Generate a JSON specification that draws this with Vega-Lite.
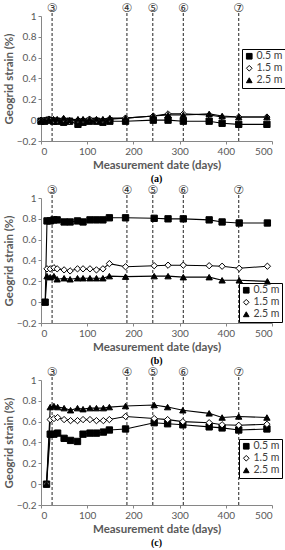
{
  "$schema": "https://vega.github.io/schema/vega-lite/v6.json",
  "padding": {"top": 2, "left": 3, "right": 0, "bottom": 0},
  "spacing": 0,
  "config": {
    "view": {"stroke": null},
    "font": "Lato",
    "axis": {"grid": false, "domainColor": "#868686", "tickColor": "#868686", "labelColor": "#595959", "labelFont": "Lato", "labelFontSize": 10, "labelOverlap": false, "labelPadding": 2, "titleColor": "#595959", "titleFont": "Lato", "titleFontSize": 11.5, "titleFontWeight": "bold", "tickSize": 3},
    "legend": {"labelFont": "Lato", "labelFontSize": 10.5, "labelColor": "#404040", "strokeColor": "black", "padding": 2, "rowPadding": 1, "labelOffset": 2, "symbolStrokeColor": "black", "symbolStrokeWidth": 1, "symbolSize": 32}
  },
  "resolve": {"scale": {"shape": "independent", "fill": "independent", "stroke": "independent"}, "legend": {"shape": "independent", "fill": "independent", "stroke": "independent"}},
  "datasets": {
    "events": [
      {"t": 24, "lab": "③"}, {"t": 186, "lab": "④"}, {"t": 242, "lab": "⑤"}, {"t": 308, "lab": "⑥"}, {"t": 428, "lab": "⑦"}
    ],
    "strain": [
      {"p":"a","d":"0.5 m","t":0,"s":-0.01},{"p":"a","d":"0.5 m","t":8,"s":-0.01},{"p":"a","d":"0.5 m","t":17,"s":0},{"p":"a","d":"0.5 m","t":27,"s":-0.01},{"p":"a","d":"0.5 m","t":35,"s":-0.01},{"p":"a","d":"0.5 m","t":49,"s":-0.02},{"p":"a","d":"0.5 m","t":62,"s":-0.01},{"p":"a","d":"0.5 m","t":80,"s":-0.04},{"p":"a","d":"0.5 m","t":91,"s":-0.02},{"p":"a","d":"0.5 m","t":105,"s":-0.01},{"p":"a","d":"0.5 m","t":120,"s":-0.01},{"p":"a","d":"0.5 m","t":134,"s":-0.02},{"p":"a","d":"0.5 m","t":149,"s":-0.01},{"p":"a","d":"0.5 m","t":183,"s":-0.01},{"p":"a","d":"0.5 m","t":243,"s":0},{"p":"a","d":"0.5 m","t":275,"s":0},{"p":"a","d":"0.5 m","t":308,"s":-0.01},{"p":"a","d":"0.5 m","t":364,"s":-0.01},{"p":"a","d":"0.5 m","t":392,"s":-0.03},{"p":"a","d":"0.5 m","t":428,"s":-0.04},{"p":"a","d":"0.5 m","t":489,"s":-0.04},
      {"p":"a","d":"1.5 m","t":0,"s":0},{"p":"a","d":"1.5 m","t":8,"s":0},{"p":"a","d":"1.5 m","t":17,"s":0.01},{"p":"a","d":"1.5 m","t":27,"s":0},{"p":"a","d":"1.5 m","t":35,"s":0},{"p":"a","d":"1.5 m","t":49,"s":0.01},{"p":"a","d":"1.5 m","t":62,"s":-0.01},{"p":"a","d":"1.5 m","t":80,"s":0},{"p":"a","d":"1.5 m","t":91,"s":0},{"p":"a","d":"1.5 m","t":105,"s":0.01},{"p":"a","d":"1.5 m","t":120,"s":0},{"p":"a","d":"1.5 m","t":134,"s":0},{"p":"a","d":"1.5 m","t":149,"s":0.01},{"p":"a","d":"1.5 m","t":183,"s":0.02},{"p":"a","d":"1.5 m","t":243,"s":0.04},{"p":"a","d":"1.5 m","t":275,"s":0.06},{"p":"a","d":"1.5 m","t":308,"s":0.06},{"p":"a","d":"1.5 m","t":364,"s":0.05},{"p":"a","d":"1.5 m","t":392,"s":0.03},{"p":"a","d":"1.5 m","t":428,"s":0.03},{"p":"a","d":"1.5 m","t":489,"s":0.03},
      {"p":"a","d":"2.5 m","t":0,"s":0},{"p":"a","d":"2.5 m","t":8,"s":0},{"p":"a","d":"2.5 m","t":17,"s":0.01},{"p":"a","d":"2.5 m","t":27,"s":0.01},{"p":"a","d":"2.5 m","t":35,"s":0.01},{"p":"a","d":"2.5 m","t":49,"s":0.02},{"p":"a","d":"2.5 m","t":62,"s":0},{"p":"a","d":"2.5 m","t":80,"s":0.01},{"p":"a","d":"2.5 m","t":91,"s":0.01},{"p":"a","d":"2.5 m","t":105,"s":0.01},{"p":"a","d":"2.5 m","t":120,"s":0.01},{"p":"a","d":"2.5 m","t":134,"s":0.01},{"p":"a","d":"2.5 m","t":149,"s":0.02},{"p":"a","d":"2.5 m","t":183,"s":0.02},{"p":"a","d":"2.5 m","t":243,"s":0.04},{"p":"a","d":"2.5 m","t":275,"s":0.05},{"p":"a","d":"2.5 m","t":308,"s":0.05},{"p":"a","d":"2.5 m","t":364,"s":0.06},{"p":"a","d":"2.5 m","t":392,"s":0.04},{"p":"a","d":"2.5 m","t":428,"s":0.03},{"p":"a","d":"2.5 m","t":489,"s":0.03},

      {"p":"b","d":"0.5 m","t":9,"s":0},{"p":"b","d":"0.5 m","t":13,"s":0.78},{"p":"b","d":"0.5 m","t":20,"s":0.78},{"p":"b","d":"0.5 m","t":28,"s":0.79},{"p":"b","d":"0.5 m","t":35,"s":0.79},{"p":"b","d":"0.5 m","t":50,"s":0.77},{"p":"b","d":"0.5 m","t":63,"s":0.77},{"p":"b","d":"0.5 m","t":79,"s":0.78},{"p":"b","d":"0.5 m","t":91,"s":0.77},{"p":"b","d":"0.5 m","t":106,"s":0.79},{"p":"b","d":"0.5 m","t":120,"s":0.79},{"p":"b","d":"0.5 m","t":134,"s":0.79},{"p":"b","d":"0.5 m","t":148,"s":0.81},{"p":"b","d":"0.5 m","t":183,"s":0.81},{"p":"b","d":"0.5 m","t":245,"s":0.805},{"p":"b","d":"0.5 m","t":275,"s":0.8},{"p":"b","d":"0.5 m","t":308,"s":0.8},{"p":"b","d":"0.5 m","t":364,"s":0.79},{"p":"b","d":"0.5 m","t":392,"s":0.77},{"p":"b","d":"0.5 m","t":429,"s":0.76},{"p":"b","d":"0.5 m","t":490,"s":0.76},
      {"p":"b","d":"1.5 m","t":13,"s":0.32},{"p":"b","d":"1.5 m","t":20,"s":0.32},{"p":"b","d":"1.5 m","t":28,"s":0.33},{"p":"b","d":"1.5 m","t":35,"s":0.32},{"p":"b","d":"1.5 m","t":50,"s":0.31},{"p":"b","d":"1.5 m","t":63,"s":0.3},{"p":"b","d":"1.5 m","t":79,"s":0.32},{"p":"b","d":"1.5 m","t":91,"s":0.32},{"p":"b","d":"1.5 m","t":106,"s":0.32},{"p":"b","d":"1.5 m","t":120,"s":0.31},{"p":"b","d":"1.5 m","t":134,"s":0.32},{"p":"b","d":"1.5 m","t":148,"s":0.37},{"p":"b","d":"1.5 m","t":183,"s":0.34},{"p":"b","d":"1.5 m","t":245,"s":0.35},{"p":"b","d":"1.5 m","t":275,"s":0.355},{"p":"b","d":"1.5 m","t":308,"s":0.355},{"p":"b","d":"1.5 m","t":364,"s":0.35},{"p":"b","d":"1.5 m","t":392,"s":0.345},{"p":"b","d":"1.5 m","t":429,"s":0.325},{"p":"b","d":"1.5 m","t":490,"s":0.345},
      {"p":"b","d":"2.5 m","t":9,"s":0},{"p":"b","d":"2.5 m","t":13,"s":0.25},{"p":"b","d":"2.5 m","t":20,"s":0.24},{"p":"b","d":"2.5 m","t":28,"s":0.25},{"p":"b","d":"2.5 m","t":35,"s":0.22},{"p":"b","d":"2.5 m","t":50,"s":0.23},{"p":"b","d":"2.5 m","t":63,"s":0.22},{"p":"b","d":"2.5 m","t":79,"s":0.23},{"p":"b","d":"2.5 m","t":91,"s":0.23},{"p":"b","d":"2.5 m","t":106,"s":0.23},{"p":"b","d":"2.5 m","t":120,"s":0.23},{"p":"b","d":"2.5 m","t":134,"s":0.23},{"p":"b","d":"2.5 m","t":148,"s":0.25},{"p":"b","d":"2.5 m","t":183,"s":0.245},{"p":"b","d":"2.5 m","t":245,"s":0.25},{"p":"b","d":"2.5 m","t":275,"s":0.25},{"p":"b","d":"2.5 m","t":308,"s":0.24},{"p":"b","d":"2.5 m","t":364,"s":0.24},{"p":"b","d":"2.5 m","t":392,"s":0.21},{"p":"b","d":"2.5 m","t":429,"s":0.21},{"p":"b","d":"2.5 m","t":490,"s":0.2},

      {"p":"c","d":"0.5 m","t":12,"s":0},{"p":"c","d":"0.5 m","t":20,"s":0.48},{"p":"c","d":"0.5 m","t":28,"s":0.48},{"p":"c","d":"0.5 m","t":36,"s":0.49},{"p":"c","d":"0.5 m","t":50,"s":0.44},{"p":"c","d":"0.5 m","t":64,"s":0.42},{"p":"c","d":"0.5 m","t":79,"s":0.41},{"p":"c","d":"0.5 m","t":91,"s":0.48},{"p":"c","d":"0.5 m","t":106,"s":0.49},{"p":"c","d":"0.5 m","t":120,"s":0.49},{"p":"c","d":"0.5 m","t":135,"s":0.5},{"p":"c","d":"0.5 m","t":148,"s":0.52},{"p":"c","d":"0.5 m","t":183,"s":0.53},{"p":"c","d":"0.5 m","t":245,"s":0.59},{"p":"c","d":"0.5 m","t":274,"s":0.58},{"p":"c","d":"0.5 m","t":307,"s":0.57},{"p":"c","d":"0.5 m","t":364,"s":0.55},{"p":"c","d":"0.5 m","t":392,"s":0.54},{"p":"c","d":"0.5 m","t":428,"s":0.52},{"p":"c","d":"0.5 m","t":489,"s":0.53},
      {"p":"c","d":"1.5 m","t":12,"s":0},{"p":"c","d":"1.5 m","t":20,"s":0.62},{"p":"c","d":"1.5 m","t":28,"s":0.63},{"p":"c","d":"1.5 m","t":36,"s":0.64},{"p":"c","d":"1.5 m","t":50,"s":0.62},{"p":"c","d":"1.5 m","t":64,"s":0.61},{"p":"c","d":"1.5 m","t":79,"s":0.61},{"p":"c","d":"1.5 m","t":91,"s":0.62},{"p":"c","d":"1.5 m","t":106,"s":0.62},{"p":"c","d":"1.5 m","t":120,"s":0.61},{"p":"c","d":"1.5 m","t":135,"s":0.61},{"p":"c","d":"1.5 m","t":148,"s":0.62},{"p":"c","d":"1.5 m","t":183,"s":0.65},{"p":"c","d":"1.5 m","t":245,"s":0.63},{"p":"c","d":"1.5 m","t":274,"s":0.62},{"p":"c","d":"1.5 m","t":307,"s":0.6},{"p":"c","d":"1.5 m","t":364,"s":0.59},{"p":"c","d":"1.5 m","t":392,"s":0.57},{"p":"c","d":"1.5 m","t":428,"s":0.565},{"p":"c","d":"1.5 m","t":489,"s":0.575},
      {"p":"c","d":"2.5 m","t":12,"s":0},{"p":"c","d":"2.5 m","t":20,"s":0.74},{"p":"c","d":"2.5 m","t":28,"s":0.75},{"p":"c","d":"2.5 m","t":36,"s":0.74},{"p":"c","d":"2.5 m","t":50,"s":0.73},{"p":"c","d":"2.5 m","t":64,"s":0.71},{"p":"c","d":"2.5 m","t":79,"s":0.73},{"p":"c","d":"2.5 m","t":91,"s":0.72},{"p":"c","d":"2.5 m","t":106,"s":0.73},{"p":"c","d":"2.5 m","t":120,"s":0.73},{"p":"c","d":"2.5 m","t":135,"s":0.73},{"p":"c","d":"2.5 m","t":148,"s":0.74},{"p":"c","d":"2.5 m","t":183,"s":0.75},{"p":"c","d":"2.5 m","t":245,"s":0.76},{"p":"c","d":"2.5 m","t":274,"s":0.74},{"p":"c","d":"2.5 m","t":307,"s":0.71},{"p":"c","d":"2.5 m","t":364,"s":0.68},{"p":"c","d":"2.5 m","t":392,"s":0.64},{"p":"c","d":"2.5 m","t":428,"s":0.65},{"p":"c","d":"2.5 m","t":489,"s":0.64}
    ]
  },
  "vconcat": [
    {
      "width": 231, "height": 125,
      "title": {"text": "(a)", "orient": "bottom", "font": "Liberation Serif", "fontSize": 10, "fontWeight": "bold", "color": "black", "offset": 3},
      "encoding": {
        "x": {"type": "quantitative", "scale": {"domain": [0, 500]}, "axis": {"values": [0, 100, 200, 300, 400, 500], "title": "Measurement date (days)", "titlePadding": 3}},
        "y": {"type": "quantitative", "scale": {"domain": [-0.2, 1]}, "axis": {"values": [-0.2, 0, 0.2, 0.4, 0.6, 0.8, 1], "format": "~g", "labelOverlap": false, "title": "Geogrid strain (%)", "titlePadding": 2}}
      },
      "layer": [
        {"data": {"name": "events"}, "mark": {"type": "rule", "strokeDash": [3, 2], "color": "#222", "strokeWidth": 1},
         "encoding": {"x": {"field": "t"}, "y": {"datum": -0.2}, "y2": {"datum": 1.045}}},
        {"data": {"name": "events"}, "mark": {"type": "text", "font": "DejaVu Sans", "fontSize": 12, "color": "#333", "baseline": "middle"},
         "encoding": {"x": {"field": "t"}, "y": {"datum": 1.075}, "text": {"field": "lab"}}},
        {"data": {"name": "strain"}, "transform": [{"filter": "datum.p == 'a'"}], "mark": {"type": "line", "color": "black", "strokeWidth": 1.1},
         "encoding": {"x": {"field": "t"}, "y": {"field": "s"}, "detail": {"field": "d"}}},
        {"data": {"name": "strain"}, "transform": [{"filter": "datum.p == 'a'"}], "mark": {"type": "point", "filled": true, "strokeWidth": 1, "size": 40, "opacity": 1},
         "encoding": {
           "x": {"field": "t"}, "y": {"field": "s"},
           "shape": {"field": "d", "type": "nominal", "scale": {"domain": ["0.5 m", "1.5 m", "2.5 m"], "range": ["square", "diamond", "triangle-up"]}, "legend": {"title": null, "orient": "none", "legendX": 201, "legendY": 33, "strokeColor": "black"}},
           "fill": {"field": "d", "type": "nominal", "scale": {"domain": ["0.5 m", "1.5 m", "2.5 m"], "range": ["black", "white", "black"]}, "legend": {"title": null, "orient": "none", "legendX": 201, "legendY": 33, "strokeColor": "black"}},
           "stroke": {"field": "d", "type": "nominal", "scale": {"domain": ["0.5 m", "1.5 m", "2.5 m"], "range": ["black", "black", "black"]}, "legend": {"title": null, "orient": "none", "legendX": 201, "legendY": 33, "strokeColor": "black"}}
         }}
      ]
    },
    {
      "width": 231, "height": 125,
      "title": {"text": "(b)", "orient": "bottom", "font": "Liberation Serif", "fontSize": 10, "fontWeight": "bold", "color": "black", "offset": 3},
      "encoding": {
        "x": {"type": "quantitative", "scale": {"domain": [0, 500]}, "axis": {"values": [0, 100, 200, 300, 400, 500], "title": "Measurement date (days)", "titlePadding": 3}},
        "y": {"type": "quantitative", "scale": {"domain": [-0.2, 1]}, "axis": {"values": [-0.2, 0, 0.2, 0.4, 0.6, 0.8, 1], "format": "~g", "labelOverlap": false, "title": "Geogrid strain (%)", "titlePadding": 2}}
      },
      "layer": [
        {"data": {"name": "events"}, "mark": {"type": "rule", "strokeDash": [3, 2], "color": "#222", "strokeWidth": 1},
         "encoding": {"x": {"field": "t"}, "y": {"datum": -0.2}, "y2": {"datum": 1.045}}},
        {"data": {"name": "events"}, "mark": {"type": "text", "font": "DejaVu Sans", "fontSize": 12, "color": "#333", "baseline": "middle"},
         "encoding": {"x": {"field": "t"}, "y": {"datum": 1.075}, "text": {"field": "lab"}}},
        {"data": {"name": "strain"}, "transform": [{"filter": "datum.p == 'b'"}], "mark": {"type": "line", "color": "black", "strokeWidth": 1.1},
         "encoding": {"x": {"field": "t"}, "y": {"field": "s"}, "detail": {"field": "d"}}},
        {"data": {"name": "strain"}, "transform": [{"filter": "datum.p == 'b'"}], "mark": {"type": "point", "filled": true, "strokeWidth": 1, "size": 40, "opacity": 1},
         "encoding": {
           "x": {"field": "t"}, "y": {"field": "s"},
           "shape": {"field": "d", "type": "nominal", "scale": {"domain": ["0.5 m", "1.5 m", "2.5 m"], "range": ["square", "diamond", "triangle-up"]}, "legend": {"title": null, "orient": "none", "legendX": 198, "legendY": 85, "strokeColor": "black"}},
           "fill": {"field": "d", "type": "nominal", "scale": {"domain": ["0.5 m", "1.5 m", "2.5 m"], "range": ["black", "white", "black"]}, "legend": {"title": null, "orient": "none", "legendX": 198, "legendY": 85, "strokeColor": "black"}},
           "stroke": {"field": "d", "type": "nominal", "scale": {"domain": ["0.5 m", "1.5 m", "2.5 m"], "range": ["black", "black", "black"]}, "legend": {"title": null, "orient": "none", "legendX": 198, "legendY": 85, "strokeColor": "black"}}
         }}
      ]
    },
    {
      "width": 231, "height": 125,
      "title": {"text": "(c)", "orient": "bottom", "font": "Liberation Serif", "fontSize": 10, "fontWeight": "bold", "color": "black", "offset": 3},
      "encoding": {
        "x": {"type": "quantitative", "scale": {"domain": [0, 500]}, "axis": {"values": [0, 100, 200, 300, 400, 500], "title": "Measurement date (days)", "titlePadding": 3}},
        "y": {"type": "quantitative", "scale": {"domain": [-0.2, 1]}, "axis": {"values": [-0.2, 0, 0.2, 0.4, 0.6, 0.8, 1], "format": "~g", "labelOverlap": false, "title": "Geogrid strain (%)", "titlePadding": 2}}
      },
      "layer": [
        {"data": {"name": "events"}, "mark": {"type": "rule", "strokeDash": [3, 2], "color": "#222", "strokeWidth": 1},
         "encoding": {"x": {"field": "t"}, "y": {"datum": -0.2}, "y2": {"datum": 1.045}}},
        {"data": {"name": "events"}, "mark": {"type": "text", "font": "DejaVu Sans", "fontSize": 12, "color": "#333", "baseline": "middle"},
         "encoding": {"x": {"field": "t"}, "y": {"datum": 1.075}, "text": {"field": "lab"}}},
        {"data": {"name": "strain"}, "transform": [{"filter": "datum.p == 'c'"}], "mark": {"type": "line", "color": "black", "strokeWidth": 1.1},
         "encoding": {"x": {"field": "t"}, "y": {"field": "s"}, "detail": {"field": "d"}}},
        {"data": {"name": "strain"}, "transform": [{"filter": "datum.p == 'c'"}], "mark": {"type": "point", "filled": true, "strokeWidth": 1, "size": 40, "opacity": 1},
         "encoding": {
           "x": {"field": "t"}, "y": {"field": "s"},
           "shape": {"field": "d", "type": "nominal", "scale": {"domain": ["0.5 m", "1.5 m", "2.5 m"], "range": ["square", "diamond", "triangle-up"]}, "legend": {"title": null, "orient": "none", "legendX": 198, "legendY": 59, "strokeColor": "black"}},
           "fill": {"field": "d", "type": "nominal", "scale": {"domain": ["0.5 m", "1.5 m", "2.5 m"], "range": ["black", "white", "black"]}, "legend": {"title": null, "orient": "none", "legendX": 198, "legendY": 59, "strokeColor": "black"}},
           "stroke": {"field": "d", "type": "nominal", "scale": {"domain": ["0.5 m", "1.5 m", "2.5 m"], "range": ["black", "black", "black"]}, "legend": {"title": null, "orient": "none", "legendX": 198, "legendY": 59, "strokeColor": "black"}}
         }}
      ]
    }
  ]
}
